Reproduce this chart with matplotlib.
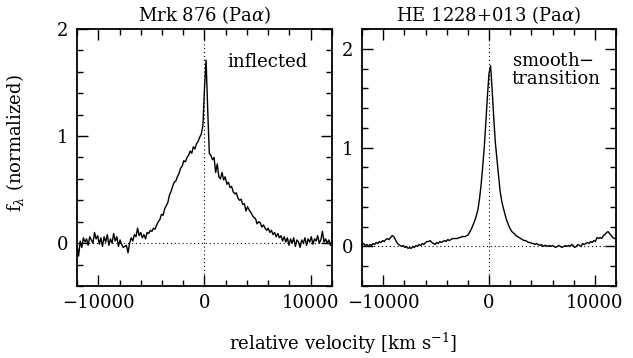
import numpy as np
import matplotlib
matplotlib.use("Agg")
import matplotlib.pyplot as plt
from matplotlib.ticker import MultipleLocator

plt.rcParams['font.family'] = ['DejaVu Serif']
plt.rcParams['mathtext.fontset'] = 'dejavuserif'

## Data
velocity = np.arange(-12000, 12001, 150)

mrk876_flux = [
    -0.02, -0.12, 0.02, -0.04, 0.05, 0.01, 0.04, -0.02, 0.06, 0.03,   # -12000
    0.00, 0.10, 0.04, 0.07, -0.01, 0.05, -0.03, 0.06, 0.01, 0.08,     # -10500
    -0.02, 0.04, 0.00, 0.09, 0.02, 0.06, -0.03, 0.03, -0.01, -0.04,   # -9000
    -0.03, -0.02, -0.09, 0.00, 0.05, 0.02, 0.08, 0.06, 0.14, 0.07,    # -7500
    0.10, 0.05, 0.08, 0.04, 0.10, 0.09, 0.12, 0.11, 0.14, 0.13,       # -6000
    0.17, 0.20, 0.22, 0.27, 0.26, 0.32, 0.35, 0.38, 0.45, 0.48,       # -4500
    0.53, 0.57, 0.58, 0.62, 0.65, 0.70, 0.72, 0.77, 0.76, 0.80,       # -3000
    0.82, 0.86, 0.84, 0.90, 0.88, 0.93, 0.95, 0.99, 1.02, 1.10,       # -1500
    1.45, 1.71, 1.25, 0.84, 0.82, 0.78, 0.80, 0.66, 0.74, 0.62,       # 0
    0.60, 0.66, 0.59, 0.62, 0.55, 0.57, 0.52, 0.53, 0.48, 0.46,       # 1500
    0.47, 0.42, 0.40, 0.41, 0.36, 0.37, 0.30, 0.34, 0.31, 0.29,       # 3000
    0.26, 0.24, 0.23, 0.18, 0.20, 0.19, 0.15, 0.17, 0.14, 0.12,       # 4500
    0.14, 0.10, 0.12, 0.08, 0.10, 0.06, 0.09, 0.05, 0.07, 0.02,       # 6000
    0.06, 0.01, 0.05, -0.02, 0.04, 0.00, 0.05, -0.03, 0.03, 0.01,     # 7500
    -0.04, 0.03, 0.00, 0.05, -0.02, 0.04, 0.01, 0.06, -0.01, 0.04,    # 9000
    0.02, 0.07, 0.00, 0.03, 0.11, 0.01, 0.04, 0.00, 0.03, -0.02,      # 10500
    0.02,                                                             # 12000
]

he1228_flux = [
    0.02, 0.03, 0.01, 0.02, 0.00, 0.02, 0.01, 0.03, 0.02, 0.04,       # -12000
    0.03, 0.05, 0.04, 0.06, 0.05, 0.07, 0.08, 0.07, 0.09, 0.11,       # -10500
    0.10, 0.07, 0.04, 0.02, 0.01, 0.00, 0.01, -0.01, 0.00, -0.02,     # -9000
    -0.01, -0.02, 0.00, -0.01, 0.01, 0.00, 0.02, 0.01, 0.03, 0.02,    # -7500
    0.04, 0.05, 0.05, 0.06, 0.04, 0.03, 0.02, 0.04, 0.03, 0.05,       # -6000
    0.04, 0.05, 0.06, 0.05, 0.07, 0.06, 0.07, 0.08, 0.08, 0.08,       # -4500
    0.08, 0.09, 0.09, 0.10, 0.10, 0.10, 0.11, 0.12, 0.15, 0.18,       # -3000
    0.22, 0.26, 0.31, 0.37, 0.48, 0.62, 0.80, 1.00, 1.25, 1.52,       # -1500
    1.75, 1.83, 1.58, 1.30, 1.05, 0.88, 0.72, 0.56, 0.46, 0.39,       # 0
    0.33, 0.27, 0.23, 0.19, 0.16, 0.14, 0.13, 0.11, 0.10, 0.09,       # 1500
    0.08, 0.07, 0.06, 0.06, 0.05, 0.04, 0.04, 0.03, 0.03, 0.02,       # 3000
    0.03, 0.02, 0.01, 0.02, 0.00, 0.01, 0.01, 0.00, 0.01, 0.00,       # 4500
    0.01, 0.00, -0.01, 0.00, 0.01, 0.00, -0.01, 0.00, 0.01, 0.00,     # 6000
    0.01, 0.00, 0.02, 0.01, -0.01, 0.00, 0.02, 0.01, 0.00, 0.03,      # 7500
    0.02, 0.03, 0.04, 0.03, 0.05, 0.04, 0.06, 0.05, 0.09, 0.08,       # 9000
    0.09, 0.08, 0.11, 0.12, 0.14, 0.15, 0.13, 0.11, 0.09, 0.08,       # 10500
    0.08,                                                             # 12000
]

titles = ["Mrk 876 (Pa$\\alpha$)", "HE 1228+013 (Pa$\\alpha$)"]
labels = ["inflected", "smooth$-$\ntransition"]
label_y = [0.872, 0.84]
ylims = [(-0.4, 2.0), (-0.4, 2.2)]

fig = plt.figure(figsize=(6.33, 3.58), dpi=100)
ax1 = fig.add_axes([77/633, 1-286/358, 255/633, 257/358])
ax2 = fig.add_axes([362/633, 1-286/358, 254/633, 257/358])

for ax, flux, title, lab, ly, yl in zip([ax1, ax2], [mrk876_flux, he1228_flux], titles, labels, label_y, ylims):
    ax.plot(velocity, flux, color="black", lw=1.0)
    ax.axhline(0, color="black", ls=(0, (1, 2.5)), lw=0.8)
    ax.axvline(0, color="black", ls=(0, (1, 2.5)), lw=0.8)
    ax.set_xlim(-12000, 12000)
    ax.set_ylim(*yl)
    ax.xaxis.set_major_locator(MultipleLocator(10000))
    ax.xaxis.set_minor_locator(MultipleLocator(2000))
    ax.yaxis.set_major_locator(MultipleLocator(1))
    ax.yaxis.set_minor_locator(MultipleLocator(0.2))
    ax.tick_params(which="both", direction="in", top=True, right=True, width=1, labelsize=13)
    ax.tick_params(which="major", length=8, pad=6)
    ax.tick_params(which="minor", length=4)
    for s in ax.spines.values():
        s.set_linewidth(1.3)
    ax.set_title(title, fontsize=13, pad=6)
    ax.text(0.59, ly, lab, transform=ax.transAxes, ha="left", va="center",
            fontsize=13, linespacing=1.0)

fig.text(15/633, 1-143/358, "f$_\\lambda$ (normalized)", rotation=90,
         ha="center", va="center", fontsize=13)
fig.text(343/633, 1-343/358, "relative velocity [km s$^{-1}$]",
         ha="center", va="center", fontsize=13)

plt.savefig("out.png", dpi=100)
